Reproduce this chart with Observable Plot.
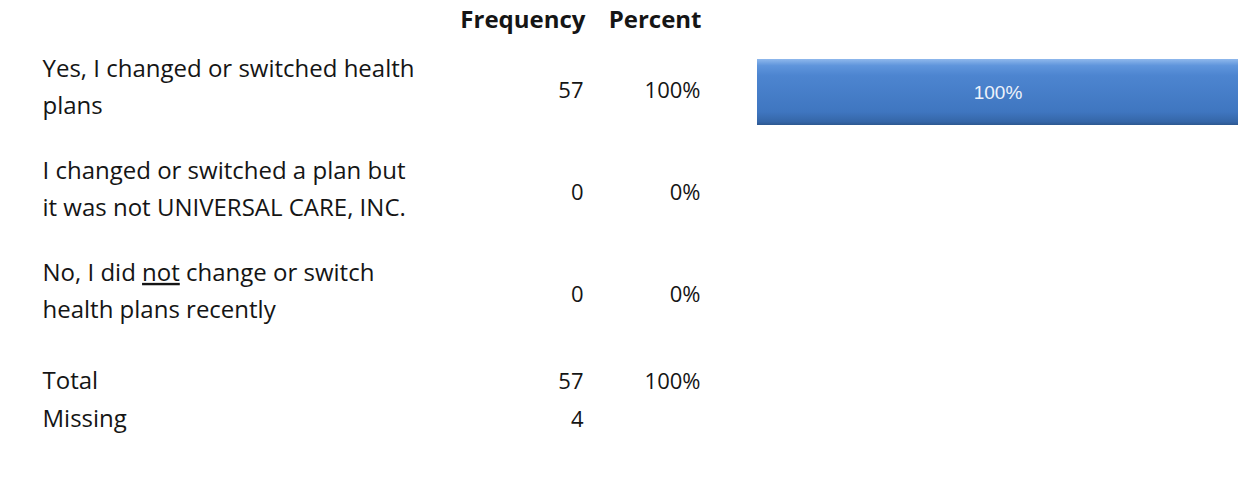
<!DOCTYPE html>
<html>
<head>
<meta charset="utf-8">
<script src="https://cdn.jsdelivr.net/npm/d3@7"></script>
<script src="https://cdn.jsdelivr.net/npm/@observablehq/plot@0.6"></script>
<style>
  html, body { margin: 0; padding: 0; background: #fff; }
  svg { display: block; }
</style>
</head>
<body>
<div id="chart"></div>
<script>
const categories = [
  "Yes, I changed or switched health\nplans",
  "I changed or switched a plan but\nit was not UNIVERSAL CARE, INC.",
  "No, I did not change or switch\nhealth plans recently"
];
const frequencies = [57, 0, 0];
const percents = [100, 0, 0];
const headers = ["Frequency", "Percent"];
const summaryLabels = ["Total", "Missing"];
const summaryFrequencies = [57, 4];
const summaryPercents = ["100%", ""];

const rows = categories.map((c, i) => ({cat: c, freq: frequencies[i], pct: percents[i]}));
const font = "'Open Sans', sans-serif";
const fs = 24;
const ns = 22;
const ink = "#151515";

const chart = Plot.plot({
  width: 1238,
  height: 493,
  marginTop: 39,
  marginBottom: 148,
  marginLeft: 0,
  marginRight: 0,
  style: {fontFamily: font, background: "#fff"},
  x: {domain: [0, 100], range: [757, 1238], axis: null},
  y: {domain: categories, padding: 0, axis: null},
  marks: [
    Plot.barX(rows, {x: "pct", y: "cat", fill: "url(#barGrad)", insetTop: 20, insetBottom: 16}),
    Plot.text(rows.filter(d => d.pct > 0), {x: d => d.pct / 2, y: "cat", text: d => d.pct + "%", fill: "#eef3fb", fontSize: 19, dy: 2, fontFamily: "'Liberation Sans', Arial, sans-serif"}),
    Plot.text(rows, {y: "cat", text: "cat", frameAnchor: "left", textAnchor: "start", dx: 42, dy: -7, fontSize: fs, lineHeight: 1.54, fill: ink}),
    Plot.text(rows, {y: "cat", text: "freq", frameAnchor: "left", textAnchor: "end", dx: 583, dy: 0, fontSize: ns, fill: ink}),
    Plot.text(rows, {y: "cat", text: d => d.pct + "%", frameAnchor: "left", textAnchor: "end", dx: 700, dy: 0, fontSize: ns, fill: ink}),
    Plot.text([headers[0]], {text: d => d, frameAnchor: "top-left", lineAnchor: "middle", textAnchor: "end", dx: 585, dy: -19, fontSize: fs, fontWeight: "bold", fill: ink}),
    Plot.text([headers[1]], {text: d => d, frameAnchor: "top-left", lineAnchor: "middle", textAnchor: "end", dx: 701, dy: -19, fontSize: fs, fontWeight: "bold", fill: ink}),
    Plot.text([summaryLabels[0]], {text: d => d, frameAnchor: "bottom-left", lineAnchor: "middle", textAnchor: "start", dx: 42, dy: 36, fontSize: fs, fill: ink}),
    Plot.text([summaryLabels[1]], {text: d => d, frameAnchor: "bottom-left", lineAnchor: "middle", textAnchor: "start", dx: 42, dy: 74, fontSize: fs, fill: ink}),
    Plot.text([summaryFrequencies[0]], {text: d => d, frameAnchor: "bottom-left", lineAnchor: "middle", textAnchor: "end", dx: 583, dy: 36, fontSize: ns, fill: ink}),
    Plot.text([summaryFrequencies[1]], {text: d => d, frameAnchor: "bottom-left", lineAnchor: "middle", textAnchor: "end", dx: 583, dy: 74, fontSize: ns, fill: ink}),
    Plot.text([summaryPercents[0]], {text: d => d, frameAnchor: "bottom-left", lineAnchor: "middle", textAnchor: "end", dx: 700, dy: 36, fontSize: ns, fill: ink})
  ]
});

// gradient for the bevelled bar
const svg = d3.select(chart);
const defs = svg.insert("defs", ":first-child");
const g = defs.append("linearGradient").attr("id", "barGrad").attr("x1", 0).attr("y1", 0).attr("x2", 0).attr("y2", 1);
[[0, "#8fb8ec"], [0.1, "#5f95dc"], [0.25, "#4d85d0"], [0.8, "#3f76c0"], [0.95, "#3566a8"], [1, "#2d5890"]]
  .forEach(([o, c]) => g.append("stop").attr("offset", o).attr("stop-color", c));

// underline "not" in the third category
svg.selectAll("tspan").each(function() {
  const t = this.textContent;
  if (t.startsWith("No, I did not")) {
    const el = d3.select(this);
    el.text(null);
    el.append("tspan").text("No, I did ");
    el.append("tspan").attr("text-decoration", "underline").text("not");
    el.append("tspan").text(" change or switch");
  }
});

document.getElementById("chart").appendChild(chart);
</script>
</body>
</html>
